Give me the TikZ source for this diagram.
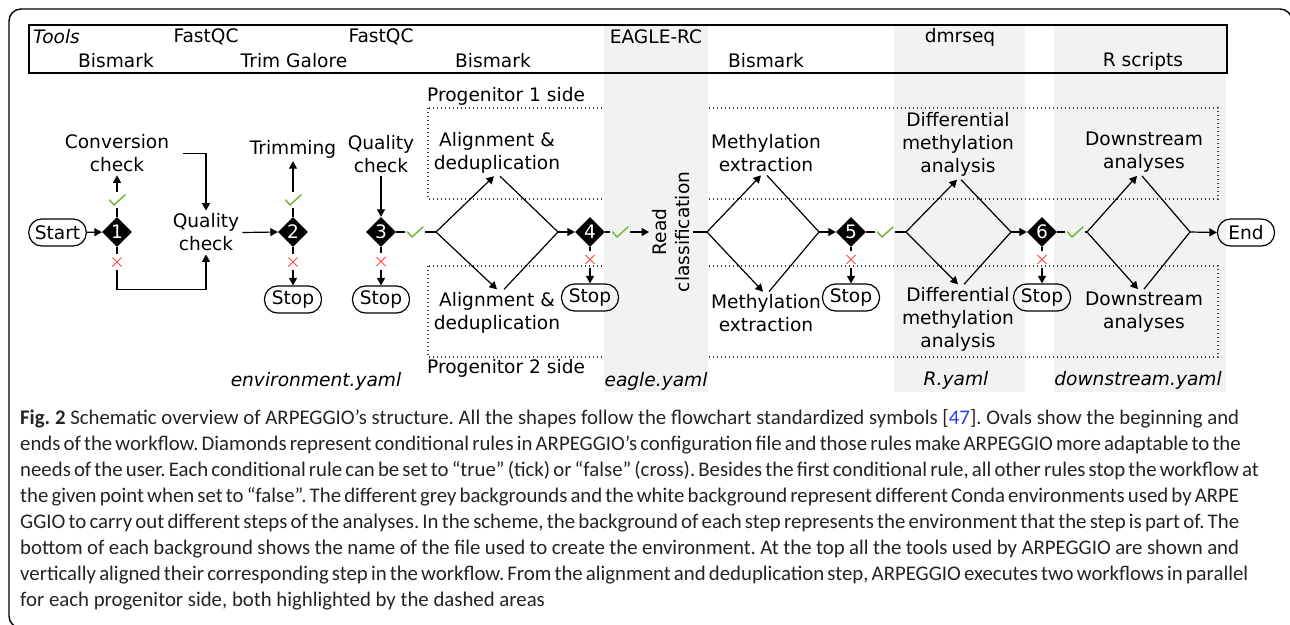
\documentclass[tikz,border=0pt]{standalone}
\usepackage{fontspec}
\setmainfont{DejaVu Sans}
\newfontfamily\capfont{Carlito}
\usetikzlibrary{arrows.meta,shapes.geometric}

\definecolor{envgrey}{RGB}{242,242,242}
\definecolor{okgreen}{RGB}{122,184,72}
\definecolor{nored}{RGB}{255,70,70}
\definecolor{linkblue}{RGB}{40,60,235}
\definecolor{captext}{RGB}{35,35,35}

\begin{document}
\begin{tikzpicture}[x=1pt,y=-1pt,
  every node/.style={font=\fontsize{18.6pt}{23pt}\selectfont},
  conn/.style={line width=1.2pt, draw=black},
  arr/.style={conn, -{Triangle[length=7.5pt,width=8pt]}},
  txt/.style={align=center, inner sep=3pt},
  ital/.style={font=\fontsize{18.6pt}{23pt}\selectfont\itshape},
  term/.style={draw, line width=1.2pt, rounded corners=13pt, minimum height=27pt,
               minimum width=57pt, inner xsep=6pt, inner ysep=0pt},
  cond/.style={diamond, shape aspect=1, fill=black, text=white, minimum width=30pt,
               minimum height=30pt, inner sep=0pt},
  okmark/.style={minimum width=20pt, minimum height=15pt, inner sep=0pt,
    path picture={\draw[okgreen, line width=1.6pt, line cap=round, line join=round,
      shift={(path picture bounding box.center)}] (-7.5,0) -- ++(4.5,5) -- ++(11,-10);}},
  nomark/.style={minimum width=12pt, minimum height=16pt, inner sep=0pt,
    path picture={\draw[nored, line width=1pt,
      shift={(path picture bounding box.center)}] (-4.5,-4.5) -- (4.5,4.5) (-4.5,4.5) -- (4.5,-4.5);}},
  arealine/.style={draw=black!75, line width=1.2pt, dash pattern=on 1.2pt off 2.8pt},
  capline/.style={anchor=base west, inner sep=0pt, text=captext,
                  font=\capfont\fontsize{20.8pt}{26pt}\selectfont\frenchspacing}
]
\path[use as bounding box] (0,0) rectangle (1290,624);

% environment backgrounds (R and downstream)
\fill[envgrey] (894,25) rectangle (1025,392);
\fill[envgrey] (1054,25) rectangle (1226,392);

% progenitor areas
\draw[arealine] (428,108) rectangle (1218,199);
\draw[arealine] (428,266) rectangle (1218,357);

% EAGLE environment background
\fill[envgrey] (604,25) rectangle (708,392);

% tools strip
\draw[line width=1.8pt] (29,25) rectangle (1227,73);
\node[ital, anchor=west, inner sep=0pt] (tools) at (33,37) {Tools};
\node (fq1) at (206,37) {FastQC};
\node (fq2) at (381,37) {FastQC};
\node (eag) at (656,37) {EAGLE-RC};
\node (dmr) at (960,37) {dmrseq};
\node (bis1) at (116,61) {Bismark};
\node (trg) at (294,61) {Trim Galore};
\node (bis2) at (493,61) {Bismark};
\node (bis3) at (766,61) {Bismark};
\node (rsc) at (1143,61) {R scripts};

% outer frame
\draw[line width=1.4pt, rounded corners=12pt] (1292,60) -- (1292,9) -- (9,9) -- (9,628) -- (40,628);

% progenitor labels
\node[anchor=west, inner sep=0pt] (p1) at (427,96) {Progenitor 1 side};
\node[anchor=west, inner sep=0pt] (p2) at (427,368) {Progenitor 2 side};

% environment file names
\node[ital] (env1) at (316,381) {environment.yaml};
\node[ital] (env2) at (656,381) {eagle.yaml};
\node[ital] (env3) at (956,380) {R.yaml};
\node[ital] (env4) at (1138,380) {downstream.yaml};

% ---- workflow ----
\node[term] (start) at (57.5,232.5) {Start};
\node[cond] (d1) at (117,232) {1};
\node[txt] (conv) at (117,153.5) {Conversion\\check};
\node[okmark] (k1) at (117,200) {};
\node[nomark] (x1) at (117,262) {};
\node[txt] (qc1) at (206,232.5) {Quality\\check};

\node[cond] (d2) at (293,232) {2};
\node[txt] (trim) at (293,149) {Trimming};
\node[okmark] (k2) at (293,200) {};
\node[nomark] (x2) at (293,262) {};
\node[term] (s2) at (293,299.5) {Stop};

\node[txt] (qc2) at (381,154) {Quality\\check};
\node[cond] (d3) at (381,232) {3};
\node[okmark] (k3) at (415,232) {};
\node[nomark] (x3) at (381,261.5) {};
\node[term] (s3) at (381,299.5) {Stop};

\coordinate (aL) at (436,232);
\coordinate (aR) at (558,232);
\node[txt] (al1) at (497,152.5) {Alignment \&\\deduplication};
\node[txt] (al2) at (497,313) {Alignment \&\\deduplication};

\node[cond] (d4) at (590,232) {4};
\node[nomark] (x4) at (590,259.5) {};
\node[term] (s4) at (590,297.5) {Stop};
\node[okmark] (k4) at (620,232) {};
\node[txt, rotate=90] (read) at (671,232) {Read\\classification};

\coordinate (bL) at (707,232);
\coordinate (bR) at (819,232);
\node[txt] (me1) at (766,153.5) {Methylation\\extraction};
\node[txt] (me2) at (766,313.5) {Methylation\\extraction};

\node[cond] (d5) at (851,232) {5};
\node[nomark] (x5) at (851,259.5) {};
\node[term] (s5) at (851,297.5) {Stop};
\node[okmark] (k5) at (885,232) {};

\coordinate (cL) at (906,232);
\coordinate (cR) at (1011,232);
\node[txt] (dm1) at (958,144.5) {Differential\\methylation\\analysis};
\node[txt] (dm2) at (958,319.5) {Differential\\methylation\\analysis};

\node[cond] (d6) at (1042,232) {6};
\node[nomark] (x6) at (1042,259.5) {};
\node[term] (s6) at (1042,297.5) {Stop};
\node[okmark] (k6) at (1075,232) {};

\coordinate (eL) at (1087,232);
\coordinate (eR) at (1190,232);
\node[txt] (ds1) at (1144,152.5) {Downstream\\analyses};
\node[txt] (ds2) at (1144,312.5) {Downstream\\analyses};
\node[term] (end) at (1246,232.5) {End};

% ---- connectors ----
\draw[arr] (start) -- (d1);
\draw[conn] (d1.north) -- (k1.south);
\draw[arr] (k1.north) -- (conv.south);
\draw[conn] (d1.south) -- (x1.north);
\draw[arr] (x1.south) -- ++(0,19) -| (qc1.south);
\draw[arr] ([xshift=11pt]conv.east) -| (qc1.north);
\draw[arr] (qc1.east) -- (d2.west);

\draw[conn] (d2.north) -- (k2.south);
\draw[arr] (k2.north) -- (trim.south);
\draw[conn] (d2.south) -- (x2.north);
\draw[arr] (x2.south) -- (s2.north);

\draw[arr] (qc2.south) -- (d3.north);
\draw[conn] (d3.east) -- (k3.west);
\draw[conn] (k3.east) -- (aL);
\draw[conn] (d3.south) -- (x3.north);
\draw[arr] (x3.south) -- (s3.north);

\draw[arr] (aL) -- ([xshift=-3pt]al1.south);
\draw[conn] ([xshift=3pt]al1.south) -- (aR);
\draw[arr] (aL) -- ([xshift=0pt]al2.north);
\draw[conn] ([xshift=7pt]al2.north) -- (aR);
\draw[arr] (aR) -- (d4.west);

\draw[conn] (d4.south) -- (x4.north);
\draw[arr] (x4.south) -- (s4.north);
\draw[conn] (d4.east) -- (k4.west);
\draw[arr] (k4.east) -- (read.north);
\draw[conn] (read.south) -- (bL);

\draw[arr] (bL) -- ([xshift=-5pt]me1.south);
\draw[conn] ([xshift=1pt]me1.south) -- (bR);
\draw[arr] (bL) -- ([xshift=-3pt]me2.north);
\draw[conn] ([xshift=3pt]me2.north) -- (bR);
\draw[arr] (bR) -- (d5.west);

\draw[conn] (d5.south) -- (x5.north);
\draw[arr] (x5.south) -- (s5.north);
\draw[conn] (d5.east) -- (k5.west);
\draw[conn] (k5.east) -- (cL);

\draw[arr] (cL) -- ([xshift=-1pt]dm1.south);
\draw[conn] ([xshift=3pt]dm1.south) -- (cR);
\draw[arr] (cL) -- ([xshift=0pt]dm2.north);
\draw[conn] ([xshift=6pt]dm2.north) -- (cR);
\draw[arr] (cR) -- (d6.west);

\draw[conn] (d6.south) -- (x6.north);
\draw[arr] (x6.south) -- (s6.north);
\draw[conn] (d6.east) -- (k6.west);
\draw[conn] (k6.east) -- (eL);

\draw[arr] (eL) -- ([xshift=-7pt]ds1.south);
\draw[conn] ([xshift=-2pt]ds1.south) -- (eR);
\draw[arr] (eL) -- ([xshift=-6pt]ds2.north);
\draw[conn] ([xshift=0pt]ds2.north) -- (eR);
\draw[arr] (eR) -- (end.west);

% ---- caption ----
\node[capline] (c1) at (20,424) {\hbox to 1219pt{\textbf{Fig.~2} Schematic overview of ARPEGGIO’s structure. All the shapes follow the flowchart standardized symbols [\textcolor{linkblue}{47}]. Ovals show the beginning and}};
\node[capline] (c2) at (20,450) {\hbox to 1219pt{ends of the workflow. Diamonds represent conditional rules in ARPEGGIO’s configuration file and those rules make ARPEGGIO more adaptable to the}};
\node[capline] (c3) at (20,476) {\hbox to 1219pt{needs of the user. Each conditional rule can be set to “true” (tick) or “false” (cross). Besides the first conditional rule, all other rules stop the workflow at}};
\node[capline] (c4) at (20,502) {\hbox to 1219pt{the given point when set to “false”. The different grey backgrounds and the white background represent different Conda environments used by ARPE}};
\node[capline] (c5) at (20,528) {\hbox to 1219pt{GGIO to carry out different steps of the analyses. In the scheme, the background of each step represents the environment that the step is part of. The}};
\node[capline] (c6) at (20,554) {\hbox to 1219pt{bottom of each background shows the name of the file used to create the environment. At the top all the tools used by ARPEGGIO are shown and}};
\node[capline] (c7) at (20,580) {\hbox to 1219pt{vertically aligned their corresponding step in the workflow. From the alignment and deduplication step, ARPEGGIO executes two workflows in parallel}};
\node[capline] (c8) at (20,606) {for each progenitor side, both highlighted by the dashed areas};
\end{tikzpicture}
\end{document}
